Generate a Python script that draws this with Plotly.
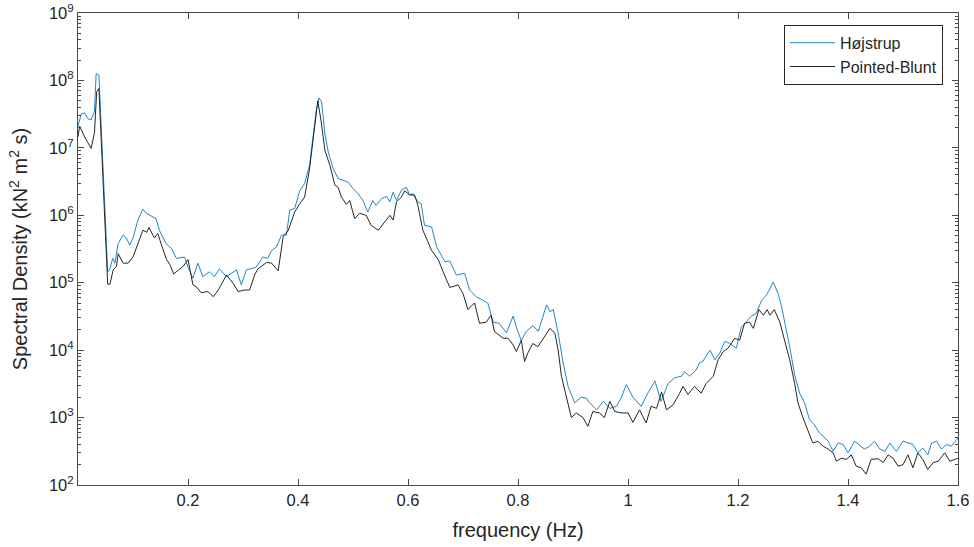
import plotly.graph_objects as go

# ---- data ----
freq_hojstrup = [0.000, 0.006, 0.012, 0.018, 0.024, 0.030, 0.033, 0.038, 0.054, 0.058, 0.063, 0.067, 0.073, 0.082, 0.088, 0.094, 0.100, 0.109, 0.118, 0.124, 0.142, 0.148, 0.160, 0.170, 0.179, 0.194, 0.200, 0.209, 0.218, 0.227, 0.239, 0.248, 0.257, 0.270, 0.288, 0.297, 0.306, 0.324, 0.336, 0.345, 0.352, 0.361, 0.370, 0.379, 0.385, 0.394, 0.403, 0.412, 0.421, 0.427, 0.433, 0.438, 0.443, 0.449, 0.455, 0.464, 0.473, 0.482, 0.491, 0.500, 0.509, 0.518, 0.527, 0.536, 0.542, 0.552, 0.561, 0.567, 0.573, 0.579, 0.588, 0.597, 0.603, 0.609, 0.618, 0.624, 0.630, 0.643, 0.652, 0.667, 0.676, 0.688, 0.703, 0.712, 0.724, 0.736, 0.745, 0.755, 0.766, 0.779, 0.791, 0.797, 0.806, 0.815, 0.827, 0.837, 0.852, 0.858, 0.864, 0.873, 0.882, 0.891, 0.903, 0.915, 0.924, 0.930, 0.943, 0.955, 0.967, 0.979, 0.988, 0.997, 1.009, 1.024, 1.036, 1.049, 1.060, 1.073, 1.085, 1.097, 1.103, 1.112, 1.124, 1.130, 1.136, 1.149, 1.158, 1.167, 1.176, 1.185, 1.197, 1.206, 1.215, 1.224, 1.233, 1.243, 1.252, 1.264, 1.273, 1.279, 1.285, 1.294, 1.303, 1.312, 1.321, 1.330, 1.339, 1.348, 1.358, 1.364, 1.373, 1.382, 1.391, 1.400, 1.412, 1.424, 1.430, 1.439, 1.448, 1.458, 1.467, 1.476, 1.488, 1.500, 1.509, 1.518, 1.527, 1.536, 1.545, 1.552, 1.561, 1.570, 1.579, 1.588, 1.600]
psd_hojstrup = [2.1e7, 3.2e7, 3.3e7, 2.7e7, 2.6e7, 3.5e7, 1.26e8, 1.2e8, 1.45e5, 1.6e5, 2.3e5, 1.95e5, 3.8e5, 5.1e5, 4.6e5, 3.6e5, 4.6e5, 8.5e5, 1.23e6, 1.07e6, 8.9e5, 6.0e5, 3.8e5, 3.2e5, 2.3e5, 2.4e5, 1.7e5, 1.17e5, 1.95e5, 1.23e5, 1.45e5, 1.23e5, 1.6e5, 1.23e5, 1.55e5, 9.3e4, 1.55e5, 1.7e5, 2.4e5, 2.3e5, 3.0e5, 3.4e5, 5.1e5, 5.1e5, 1.2e6, 1.26e6, 2.3e6, 2.95e6, 5.5e6, 1.45e7, 3.5e7, 5.5e7, 4.8e7, 1.6e7, 8.7e6, 4.9e6, 3.5e6, 3.3e6, 3.1e6, 2.5e6, 2.1e6, 1.66e6, 1.12e6, 1.66e6, 1.4e6, 1.78e6, 1.9e6, 1.58e6, 2.2e6, 1.66e6, 2.35e6, 2.6e6, 2.0e6, 2.1e6, 1.58e6, 1.48e6, 7.1e5, 6.7e5, 3.4e5, 2.05e5, 2.1e5, 1.3e5, 1.38e5, 7.8e4, 6.2e4, 5.5e4, 5.0e4, 2.6e4, 2.5e4, 1.8e4, 3.2e4, 2.2e4, 1.38e4, 1.9e4, 2.3e4, 1.9e4, 4.7e4, 3.7e4, 4.0e4, 1.8e4, 6.5e3, 2.9e3, 1.66e3, 2.0e3, 1.95e3, 1.66e3, 1.3e3, 1.74e3, 1.37e3, 1.47e3, 2.0e3, 3.1e3, 2.0e3, 1.47e3, 2.3e3, 3.5e3, 1.74e3, 3.2e3, 3.9e3, 4.1e3, 4.8e3, 4.1e3, 5.1e3, 6.5e3, 6.8e3, 1.0e4, 7.2e3, 9.1e3, 1.35e4, 1.26e4, 1.07e4, 2.2e4, 2.6e4, 3.2e4, 3.5e4, 5.5e4, 6.6e4, 1.02e5, 6.9e4, 4.5e4, 2.6e4, 1.12e4, 4.3e3, 2.3e3, 1.66e3, 930, 780, 590, 500, 445, 315, 420, 400, 300, 445, 375, 340, 375, 445, 340, 315, 420, 315, 445, 420, 400, 300, 355, 280, 420, 445, 340, 400, 375, 500]

freq_pointed = [0.000, 0.003, 0.012, 0.024, 0.030, 0.034, 0.038, 0.054, 0.058, 0.064, 0.070, 0.073, 0.082, 0.091, 0.100, 0.106, 0.118, 0.125, 0.129, 0.139, 0.145, 0.154, 0.161, 0.167, 0.174, 0.183, 0.191, 0.200, 0.209, 0.215, 0.224, 0.236, 0.246, 0.255, 0.270, 0.282, 0.291, 0.303, 0.312, 0.321, 0.327, 0.343, 0.352, 0.364, 0.373, 0.382, 0.394, 0.403, 0.412, 0.421, 0.430, 0.436, 0.442, 0.449, 0.458, 0.467, 0.473, 0.479, 0.488, 0.494, 0.503, 0.512, 0.524, 0.533, 0.546, 0.555, 0.567, 0.573, 0.579, 0.588, 0.594, 0.603, 0.612, 0.618, 0.627, 0.643, 0.655, 0.664, 0.676, 0.691, 0.700, 0.709, 0.721, 0.730, 0.742, 0.751, 0.757, 0.773, 0.782, 0.791, 0.797, 0.806, 0.812, 0.818, 0.827, 0.836, 0.848, 0.858, 0.867, 0.873, 0.879, 0.888, 0.897, 0.906, 0.918, 0.927, 0.936, 0.948, 0.957, 0.967, 0.976, 0.988, 1.000, 1.009, 1.021, 1.033, 1.042, 1.052, 1.061, 1.070, 1.082, 1.094, 1.100, 1.109, 1.121, 1.133, 1.142, 1.155, 1.164, 1.173, 1.182, 1.194, 1.203, 1.212, 1.221, 1.228, 1.238, 1.246, 1.253, 1.258, 1.266, 1.276, 1.285, 1.294, 1.303, 1.309, 1.318, 1.327, 1.336, 1.345, 1.355, 1.364, 1.373, 1.379, 1.388, 1.397, 1.406, 1.415, 1.424, 1.433, 1.442, 1.455, 1.464, 1.473, 1.482, 1.491, 1.500, 1.509, 1.518, 1.527, 1.536, 1.545, 1.555, 1.564, 1.576, 1.585, 1.600]
psd_pointed = [1.45e7, 2.1e7, 1.45e7, 9.8e6, 1.7e7, 6.8e7, 7.6e7, 9.5e4, 9.5e4, 1.55e5, 1.74e5, 2.7e5, 1.95e5, 1.95e5, 2.4e5, 3.2e5, 6.0e5, 5.6e5, 6.6e5, 4.6e5, 5.4e5, 3.2e5, 2.2e5, 1.86e5, 1.35e5, 1.55e5, 1.74e5, 2.2e5, 9.3e4, 8.7e4, 7.1e4, 7.4e4, 6.2e4, 7.8e4, 1.3e5, 9.8e4, 7.4e4, 7.8e4, 7.8e4, 1.3e5, 1.6e5, 2.0e5, 1.95e5, 1.5e5, 4.8e5, 5.9e5, 1.12e6, 1.48e6, 1.86e6, 4.9e6, 2.0e7, 5.0e7, 2.5e7, 9.1e6, 5.5e6, 2.8e6, 2.6e6, 1.86e6, 1.45e6, 1.66e6, 8.9e5, 1.07e6, 1.0e6, 7.1e5, 6.0e5, 7.6e5, 1.0e6, 8.5e5, 1.58e6, 1.86e6, 2.3e6, 2.0e6, 2.0e6, 1.4e6, 6.0e5, 3.0e5, 2.2e5, 1.45e5, 8.5e4, 9.3e4, 6.9e4, 4.0e4, 5.0e4, 2.5e4, 2.6e4, 3.3e4, 1.9e4, 1.5e4, 1.5e4, 1.2e4, 9.5e3, 1.4e4, 6.8e3, 9.1e3, 1.26e4, 1.12e4, 1.6e4, 2.1e4, 1.8e4, 1.0e4, 4.1e3, 2.0e3, 1.0e3, 1.17e3, 1.0e3, 740, 1.23e3, 1.17e3, 1.0e3, 1.74e3, 1.23e3, 1.17e3, 1.17e3, 850, 1.3e3, 830, 1.47e3, 1.37e3, 2.4e3, 1.3e3, 1.55e3, 2.3e3, 2.9e3, 2.2e3, 2.9e3, 2.3e3, 3.2e3, 4.1e3, 7.2e3, 9.5e3, 1.07e4, 1.5e4, 1.4e4, 2.5e4, 2.6e4, 2.1e4, 4.0e4, 3.3e4, 4.0e4, 3.3e4, 4.0e4, 2.6e4, 1.4e4, 7.2e3, 3.2e3, 1.66e3, 1.0e3, 630, 420, 445, 375, 340, 300, 225, 250, 240, 280, 190, 180, 145, 240, 245, 215, 280, 250, 190, 200, 280, 180, 300, 240, 170, 215, 225, 300, 225, 250]

x_tick_vals = [0.2, 0.4, 0.6, 0.8, 1.0, 1.2, 1.4, 1.6]
x_tick_text = ["0.2", "0.4", "0.6", "0.8", "1", "1.2", "1.4", "1.6"]
y_exponents = [2, 3, 4, 5, 6, 7, 8, 9]

series_names = ["Højstrup", "Pointed-Blunt"]
series_colors = ["#1f86cf", "#262626"]

y_tick_vals = [10 ** e for e in y_exponents]
y_tick_text = [f"10<sup>{e}</sup>" for e in y_exponents]
y_minor = [m * 10 ** e for e in y_exponents[:-1] for m in range(2, 10)]

FONT = "Liberation Sans, Arial, Helvetica, sans-serif"
AX = "#4a4a4a"
TXT = "#262626"

fig = go.Figure()
fig.add_trace(go.Scatter(x=freq_hojstrup, y=psd_hojstrup, mode="lines",
                         name=series_names[0], line=dict(color=series_colors[0], width=1)))
fig.add_trace(go.Scatter(x=freq_pointed, y=psd_pointed, mode="lines",
                         name=series_names[1], line=dict(color=series_colors[1], width=1)))

fig.update_layout(
    width=974, height=547,
    margin=dict(l=78, r=16, t=13, b=62, autoexpand=False),
    paper_bgcolor="white", plot_bgcolor="white",
    font=dict(family=FONT, size=16.5, color=TXT),
    showlegend=True,
    legend=dict(x=0.983, y=0.975, xanchor="right", yanchor="top",
                bgcolor="white", bordercolor=TXT, borderwidth=1,
                font=dict(size=16, family=FONT, color=TXT),
                tracegroupgap=0, itemwidth=45),
    xaxis=dict(range=[0, 1.6], tickvals=x_tick_vals, ticktext=x_tick_text,
               ticks="inside", ticklen=6, tickcolor=AX, tickwidth=1,
               showline=True, linecolor=AX, linewidth=1, mirror="ticks",
               showgrid=False, zeroline=False, automargin=False,
               tickfont=dict(size=16.5, color=TXT),
               title=dict(text="frequency (Hz)", font=dict(size=20, color=TXT))),
    yaxis=dict(type="log", range=[2, 9], tickvals=y_tick_vals, ticktext=y_tick_text,
               ticks="inside", ticklen=6, tickcolor=AX, tickwidth=1,
               showline=True, linecolor=AX, linewidth=1, mirror="ticks",
               showgrid=False, zeroline=False, automargin=False,
               minor=dict(tickvals=y_minor, ticks="inside", ticklen=3, tickcolor=AX, showgrid=False),
               tickfont=dict(size=16.5, color=TXT),
               title=dict(text="Spectral Density (kN<sup>2</sup> m<sup>2</sup> s)",
                          font=dict(size=20, color=TXT))),
)

fig.write_html("out.html", config={"displayModeBar": False},
               post_script="document.body.style.margin='0';document.body.style.padding='0';")
